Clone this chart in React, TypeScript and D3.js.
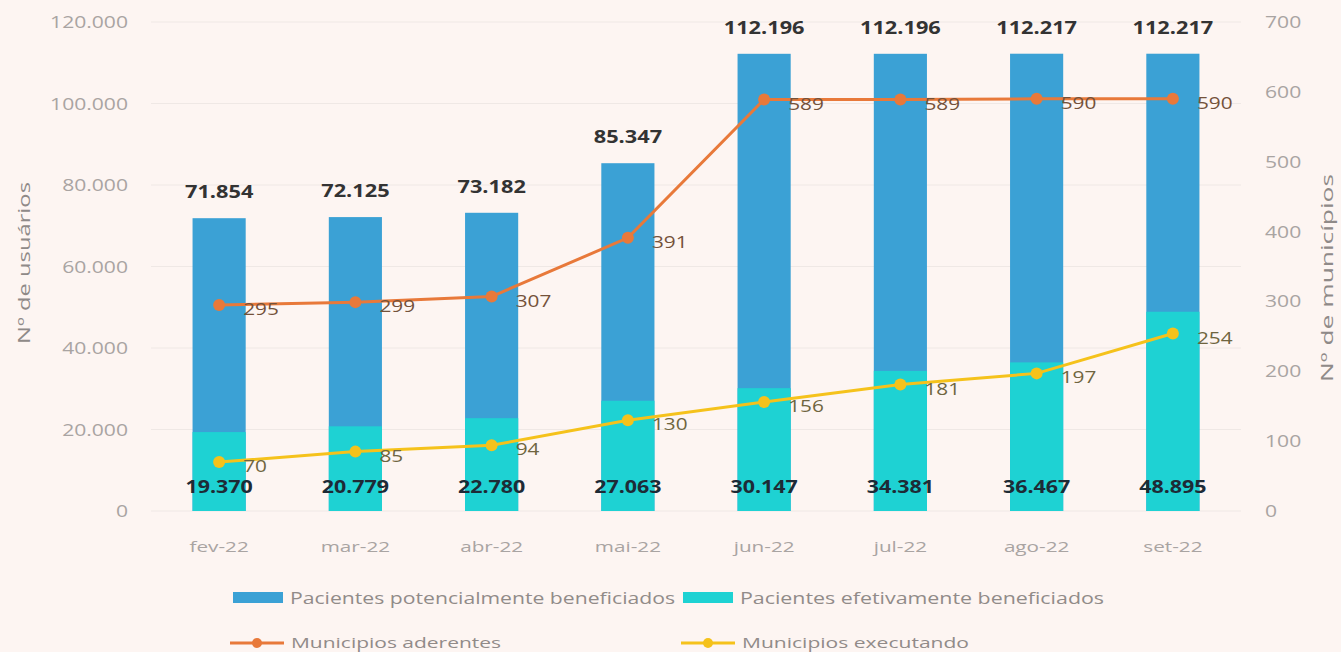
import { useEffect, useRef } from 'react';
import * as d3 from 'd3';

const months = ['fev-22', 'mar-22', 'abr-22', 'mai-22', 'jun-22', 'jul-22', 'ago-22', 'set-22'];
const potenciais = [71854, 72125, 73182, 85347, 112196, 112196, 112217, 112217];
const efetivos = [19370, 20779, 22780, 27063, 30147, 34381, 36467, 48895];
const aderentes = [295, 299, 307, 391, 589, 589, 590, 590];
const executando = [70, 85, 94, 130, 156, 181, 197, 254];
const leftTicks = [0, 20000, 40000, 60000, 80000, 100000, 120000];
const rightTicks = [0, 100, 200, 300, 400, 500, 600, 700];

const W = 1341;
const H = 652;
const FONT = '"Open Sans", Lato, sans-serif';
const SX = 1.32; // reference text is wide

const fmt = (v: number) => d3.format(',')(v).replace(/,/g, '.');

const App = () => {
  const svgRef = useRef<SVGSVGElement>(null);

  useEffect(() => {
    const svg = d3.select(svgRef.current);
    svg.selectAll('*').remove();

    svg.append('rect').attr('width', W).attr('height', H).attr('fill', '#fdf5f2');

    const x = d3.scaleBand().domain(months).range([151, 1241]).paddingInner(0.61).paddingOuter(0.305);
    const yL = d3.scaleLinear().domain([0, 120000]).range([511, 22]);
    const yR = d3.scaleLinear().domain([0, 700]).range([511, 22]);
    const cx = (m: string) => (x(m) as number) + x.bandwidth() / 2;

    // wide text helper
    const label = (parent: any, tx: number, ty: number, txt: string, o: any = {}) =>
      parent
        .append('text')
        .attr('transform', `translate(${tx},${ty}) scale(${o.sx ?? SX},1)`)
        .attr('text-anchor', o.anchor ?? 'start')
        .attr('font-family', FONT)
        .attr('font-size', o.size ?? 16)
        .attr('font-weight', o.weight ?? 'normal')
        .attr('fill', o.fill ?? '#a9a4a2')
        .text(txt);

    // grid
    svg.append('g')
      .selectAll('line')
      .data(leftTicks)
      .join('line')
      .attr('x1', 151)
      .attr('x2', 1241)
      .attr('y1', d => yL(d))
      .attr('y2', d => yL(d))
      .attr('stroke', '#efe8e5')
      .attr('stroke-width', 1);

    const axes = svg.append('g');
    leftTicks.forEach(t => label(axes, 128, yL(t) + 6, fmt(t), { anchor: 'end' }));
    rightTicks.forEach(t => label(axes, 1265, yR(t) + 6, String(t)));

    // axis titles
    svg.append('text')
      .attr('transform', 'translate(30,263) rotate(-90)')
      .attr('text-anchor', 'middle')
      .attr('font-family', FONT)
      .attr('font-size', 17)
      .attr('fill', '#8f8a88')
      .attr('textLength', 162)
      .attr('lengthAdjust', 'spacingAndGlyphs')
      .text('Nº de usuários');

    svg.append('text')
      .attr('transform', 'translate(1333,278) rotate(-90)')
      .attr('text-anchor', 'middle')
      .attr('font-family', FONT)
      .attr('font-size', 17)
      .attr('fill', '#8f8a88')
      .attr('textLength', 208)
      .attr('lengthAdjust', 'spacingAndGlyphs')
      .text('Nº de municípios');

    // x labels
    const xl = svg.append('g');
    months.forEach(m => label(xl, cx(m), 552, m, { anchor: 'middle', size: 15, sx: 1.38 }));

    // bars
    svg.append('g')
      .selectAll('rect')
      .data(months)
      .join('rect')
      .attr('x', d => x(d) as number)
      .attr('width', x.bandwidth())
      .attr('y', (d, i) => yL(potenciais[i]))
      .attr('height', (d, i) => yL(0) - yL(potenciais[i]))
      .attr('fill', '#3ba1d5');

    svg.append('g')
      .selectAll('rect')
      .data(months)
      .join('rect')
      .attr('x', d => x(d) as number)
      .attr('width', x.bandwidth())
      .attr('y', (d, i) => yL(efetivos[i]))
      .attr('height', (d, i) => yL(0) - yL(efetivos[i]))
      .attr('fill', '#1ed2d3');

    // bar value labels
    const vl = svg.append('g');
    months.forEach((m, i) => {
      label(vl, cx(m), yL(potenciais[i]) - 20, fmt(potenciais[i]), {
        anchor: 'middle', size: 17, weight: 'bold', fill: '#333', sx: 1.28
      });
      label(vl, cx(m), 493, fmt(efetivos[i]), {
        anchor: 'middle', size: 17, weight: 'bold', fill: '#1d2b36', sx: 1.26
      });
    });

    // lines
    const series = [
      { values: aderentes, color: '#e8793a', text: '#74513a' },
      { values: executando, color: '#f5c21b', text: '#6f6540' }
    ];

    series.forEach(s => {
      const line = d3.line<number>()
        .x((d, i) => cx(months[i]))
        .y(d => yR(d));

      svg.append('path')
        .datum(s.values)
        .attr('fill', 'none')
        .attr('stroke', s.color)
        .attr('stroke-width', 3)
        .attr('d', line);

      svg.append('g')
        .selectAll('circle')
        .data(s.values)
        .join('circle')
        .attr('cx', (d, i) => cx(months[i]))
        .attr('cy', d => yR(d))
        .attr('r', 6)
        .attr('fill', s.color);

      const g = svg.append('g');
      s.values.forEach((v, i) => label(g, cx(months[i]) + 24, yR(v) + 10, String(v), { size: 16, fill: s.text, sx: 1.3 }));
    });

    // legend
    const legend = svg.append('g');
    const barLegend = [
      { label: 'Pacientes potencialmente beneficiados', color: '#3ba1d5', x: 233, len: 385 },
      { label: 'Pacientes efetivamente beneficiados', color: '#1ed2d3', x: 683, len: 364 }
    ];
    barLegend.forEach(b => {
      legend.append('rect').attr('x', b.x).attr('y', 592).attr('width', 50).attr('height', 11).attr('fill', b.color);
      legend.append('text')
        .attr('x', b.x + 57)
        .attr('y', 604)
        .attr('font-family', FONT)
        .attr('font-size', 16)
        .attr('fill', '#918b89')
        .attr('textLength', b.len)
        .attr('lengthAdjust', 'spacingAndGlyphs')
        .text(b.label);
    });

    const lineLegend = [
      { label: 'Municipios aderentes', color: '#e8793a', x: 230, len: 210 },
      { label: 'Municipios executando', color: '#f5c21b', x: 681, len: 227 }
    ];
    lineLegend.forEach(l => {
      legend.append('line')
        .attr('x1', l.x).attr('x2', l.x + 54)
        .attr('y1', 643).attr('y2', 643)
        .attr('stroke', l.color).attr('stroke-width', 3);
      legend.append('circle').attr('cx', l.x + 27).attr('cy', 643).attr('r', 5).attr('fill', l.color);
      legend.append('text')
        .attr('x', l.x + 61)
        .attr('y', 648)
        .attr('font-family', FONT)
        .attr('font-size', 15)
        .attr('fill', '#918b89')
        .attr('textLength', l.len)
        .attr('lengthAdjust', 'spacingAndGlyphs')
        .text(l.label);
    });
  }, []);

  return (
    <svg
      ref={svgRef}
      width={W}
      height={H}
      style={{ position: 'fixed', top: 0, left: 0, display: 'block' }}
    ></svg>
  );
};

export default App;
